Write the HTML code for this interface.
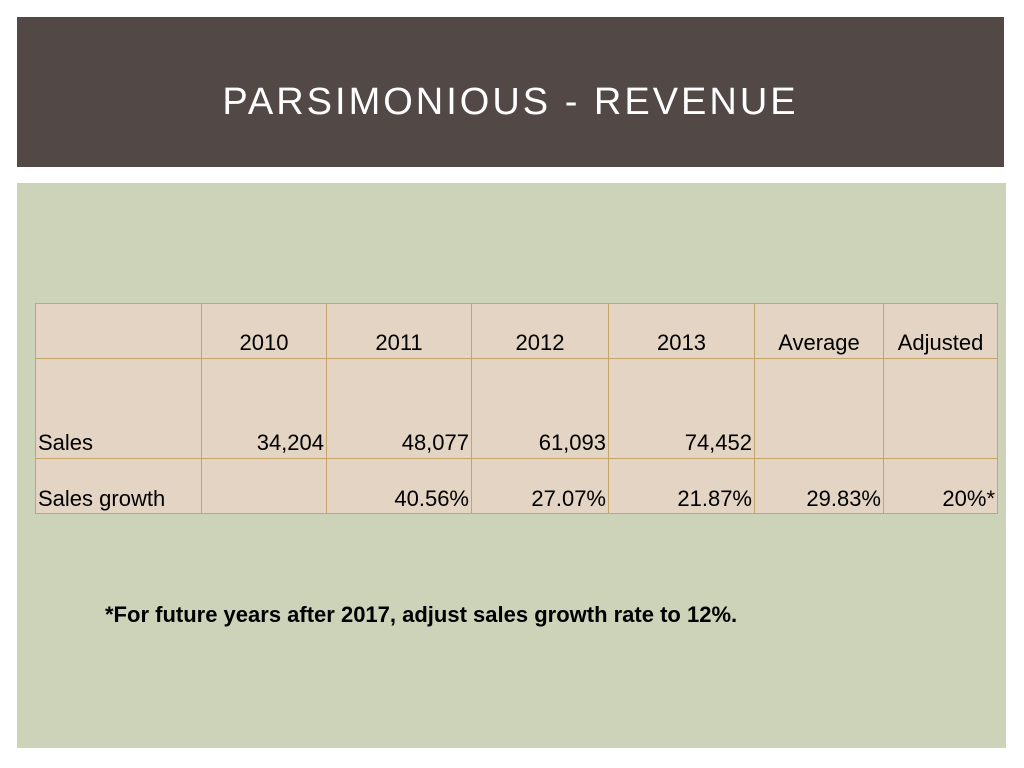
<!DOCTYPE html>
<html><head><meta charset="utf-8"><style>
body{margin:0;width:1024px;height:768px;background:#fff;position:relative;overflow:hidden;font-family:"Liberation Sans",sans-serif}
#hdr{position:absolute;left:17px;top:17px;width:987px;height:150px;background:#524846}
#hdr h1{margin:0;position:absolute;left:0;right:0;top:62px;text-align:center;color:#fff;font-weight:normal;font-size:38px;letter-spacing:3px;line-height:46px}
#body{position:absolute;left:17px;top:183px;width:989px;height:565px;background:#cdd3b9}
table{position:absolute;left:35px;top:303px;border-collapse:collapse;background:#e3d4c3}
td{border:1.5px solid #c4a468;padding:0 2px;font-size:22px;color:#000;vertical-align:bottom;line-height:26px}
tr.h td{height:52px;text-align:center;padding-bottom:2px}
tr.s td{height:97px;text-align:right;padding-bottom:2px}
tr.g td{height:53px;text-align:right;padding-bottom:1px}
td.l{text-align:left!important}
#note{position:absolute;left:105px;top:602px;font-size:22px;font-weight:bold;color:#000}
</style></head><body>
<div id="hdr"><h1>PARSIMONIOUS - REVENUE</h1></div>
<div id="body"></div>
<table>
<colgroup><col style="width:166px"><col style="width:125px"><col style="width:145px"><col style="width:137px"><col style="width:146px"><col style="width:129px"><col style="width:114px"></colgroup>
<tr class="h"><td></td><td>2010</td><td>2011</td><td>2012</td><td>2013</td><td>Average</td><td>Adjusted</td></tr>
<tr class="s"><td class="l">Sales</td><td>34,204</td><td>48,077</td><td>61,093</td><td>74,452</td><td></td><td></td></tr>
<tr class="g"><td class="l">Sales growth</td><td></td><td>40.56%</td><td>27.07%</td><td>21.87%</td><td>29.83%</td><td>20%*</td></tr>
</table>
<div id="note">*For future years after 2017, adjust sales growth rate to 12%.</div>
</body></html>
